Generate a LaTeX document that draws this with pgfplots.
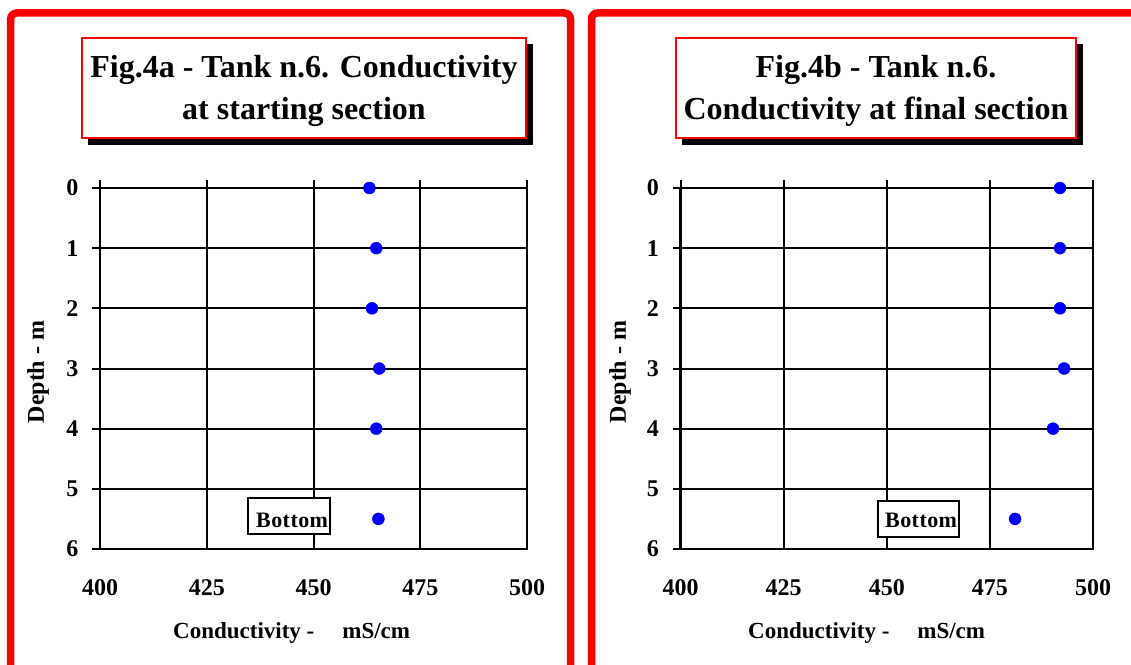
\documentclass[border=0pt]{standalone}
\usepackage{pgfplots}
\pgfplotsset{compat=1.18}
\usepackage{fontspec}
\setmainfont{Liberation Serif}
\newfontfamily\spaced[LetterSpace=2]{Liberation Serif}

\pgfplotsset{myax/.style={
  scale only axis, height=361pt,
  xmin=400, xmax=500, ymin=0, ymax=6, y dir=reverse,
  xtick={400,425,...,500}, ytick={0,1,...,6},
  grid=major, major grid style={black, line width=2pt},
  axis line style={black, line width=2.2pt},
  tick align=center, major tick length=16pt,
  tick style={black, line width=2pt},
  xticklabel pos=lower, xtick pos=upper, ytick pos=left,
  ticklabel style={font=\fontsize{24}{28}\bfseries\selectfont},
  xticklabel style={yshift=-19pt},
  yticklabel style={xshift=-10pt},
  /pgf/number format/assume math mode=true,
  anchor=south west, clip=false}}

\begin{document}
\begin{tikzpicture}[x=1pt,y=1pt]
\useasboundingbox (0,0) rectangle (1131,664);
% panels
\draw[red, line width=7.5pt, rounded corners=6pt] (10.7,-20) rectangle (570.5,651);
\draw[red, line width=7.5pt, rounded corners=6pt] (591.5,-20) rectangle (1150,651);

% titles
\fill[black] (88,519) rectangle (533,620);
\filldraw[fill=white, draw=red, line width=1.5pt] (82,526) rectangle (526,626);
\node[anchor=base, inner sep=0, font=\fontsize{32}{38}\bfseries\selectfont] at (304,586) {Fig.4a - Tank n.6. Conductivity};
\node[anchor=base, inner sep=0, font=\fontsize{32}{38}\bfseries\selectfont] at (304,544) {at starting section};

\fill[black] (682,519) rectangle (1083,620);
\filldraw[fill=white, draw=red, line width=1.5pt] (676,526) rectangle (1076,626);
\node[anchor=base, inner sep=0, font=\fontsize{32}{38}\bfseries\selectfont] at (876,586) {Fig.4b - Tank n.6.};
\node[anchor=base, inner sep=0, font=\fontsize{32}{38}\bfseries\selectfont] at (876,544) {Conductivity at final section};

\begin{axis}[myax, at={(100pt,115pt)}, width=427pt]
\addplot[only marks, mark=*, mark size=6pt, color=blue, mark options={fill=blue, draw=blue}]
  coordinates {(463.1,0) (464.7,1) (463.7,2) (465.4,3) (464.7,4) (465.2,5.5)};
\end{axis}

\begin{axis}[myax, at={(680.5pt,115pt)}, width=412.5pt]
\addplot[only marks, mark=*, mark size=6pt, color=blue, mark options={fill=blue, draw=blue}]
  coordinates {(492,0) (492,1) (492,2) (493,3) (490.3,4) (481.1,5.5)};
\end{axis}

% bottom boxes
\begin{scope}
\fill[white] (248,130) rectangle (330,166);
\clip (248,130) rectangle (328,166);
\node[anchor=base west, inner sep=0, font=\fontsize{22}{26}\spaced\bfseries\selectfont] at (256,137) {Bottom};
\end{scope}
\draw[black, line width=1.5pt] (248,130) rectangle (330,166);

\begin{scope}
\fill[white] (878,127) rectangle (959,163);
\clip (878,127) rectangle (957,163);
\node[anchor=base west, inner sep=0, font=\fontsize{22}{26}\spaced\bfseries\selectfont] at (885,137) {Bottom};
\end{scope}
\draw[black, line width=1.5pt] (878,127) rectangle (959,163);

% axis labels
\node[anchor=base west, inner sep=0, font=\fontsize{23}{27}\bfseries\selectfont] at (173,26) {Conductivity -\hskip28pt mS/cm};
\node[anchor=base west, inner sep=0, font=\fontsize{23}{27}\bfseries\selectfont] at (748,26) {Conductivity -\hskip28pt mS/cm};
\node[rotate=90, inner sep=0, font=\fontsize{24}{28}\bfseries\selectfont] at (38,292) {Depth - m};
\node[rotate=90, inner sep=0, font=\fontsize{24}{28}\bfseries\selectfont] at (620,292) {Depth - m};
\end{tikzpicture}
\end{document}
